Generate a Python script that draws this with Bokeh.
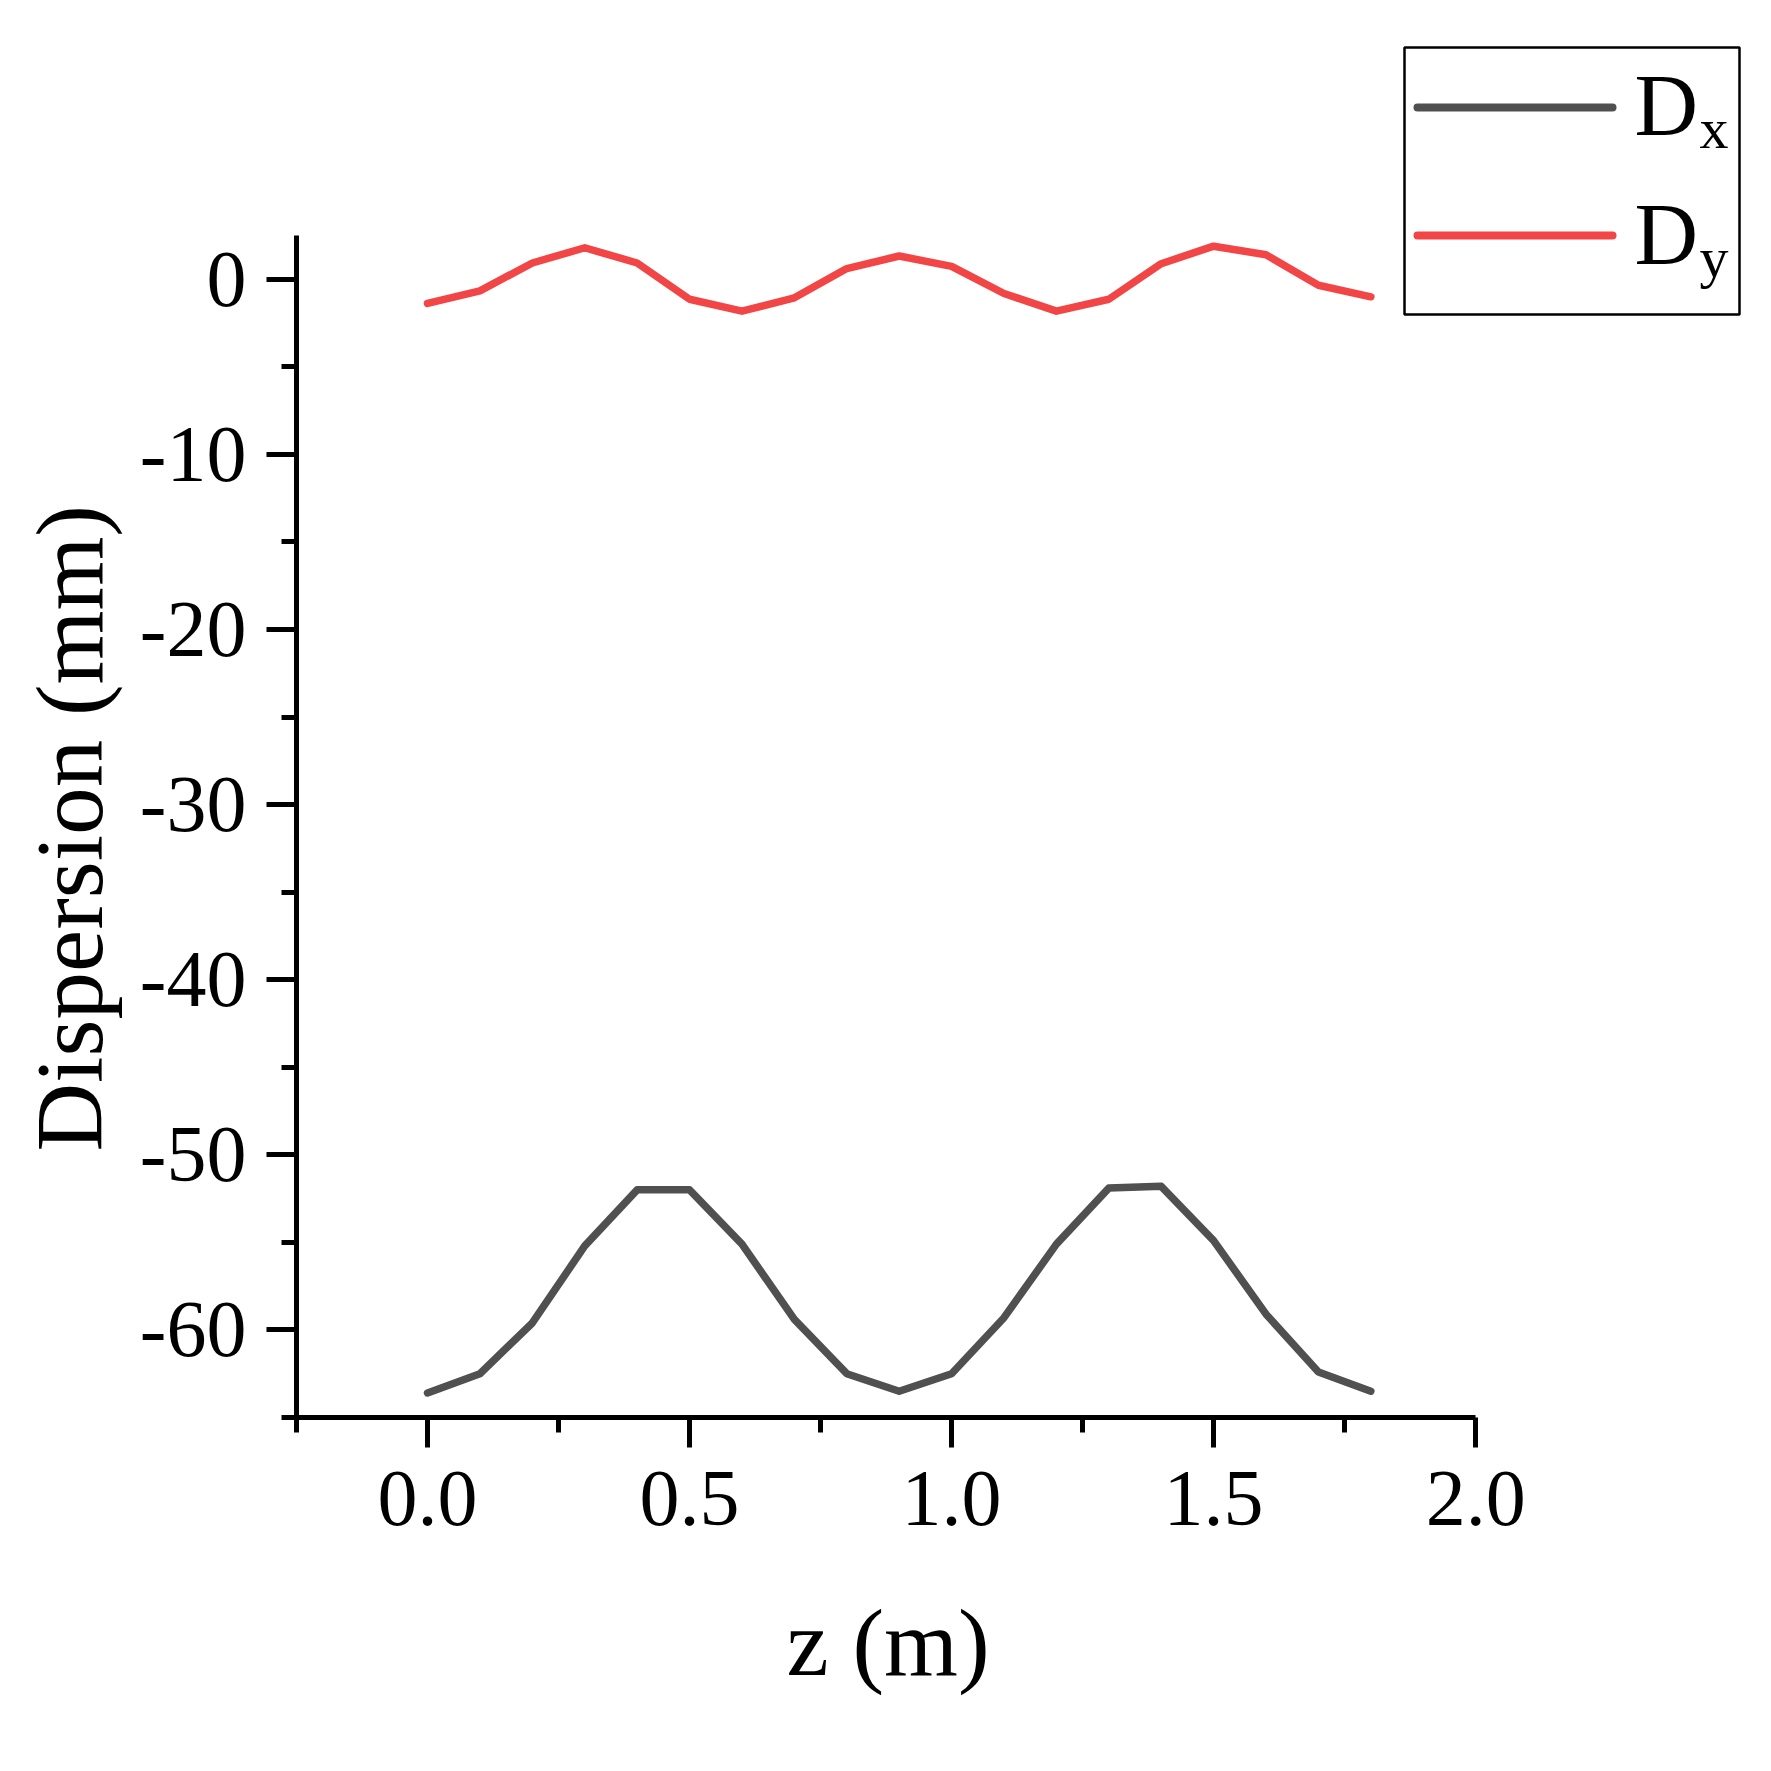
from bokeh.plotting import figure
from bokeh.models import (Range1d, FixedTicker, PrintfTickFormatter, Label, Arrow,
                          BoxAnnotation, Title)
from bokeh.embed import file_html
from bokeh.resources import INLINE

# ---- data ----
Z = [0.0, 0.1, 0.2, 0.3, 0.4, 0.5, 0.6, 0.7, 0.8, 0.9,
     1.0, 1.1, 1.2, 1.3, 1.4, 1.5, 1.6, 1.7, 1.8]
DX = [-63.6, -62.5, -59.6, -55.2, -52.0, -52.0, -55.1, -59.4, -62.5, -63.5,
      -62.5, -59.3, -55.1, -51.9, -51.8, -54.9, -59.1, -62.4, -63.5]
DY = [-1.38, -0.66, 0.93, 1.80, 0.93, -1.14, -1.82, -1.06, 0.61, 1.33,
      0.74, -0.81, -1.82, -1.14, 0.89, 1.89, 1.40, -0.34, -1.00]

X_TICKS = [0.0, 0.5, 1.0, 1.5, 2.0]
X_MINOR = [-0.25, 0.25, 0.75, 1.25, 1.75]
Y_TICKS = [0, -10, -20, -30, -40, -50, -60]
Y_MINOR = [-5, -15, -25, -35, -45, -55, -65]
X_BOUNDS = (-0.25, 2.0)
Y_BOUNDS = (-65, 2.5)

SERIES_MAIN = ["D", "D"]
SERIES_SUB = ["x", "y"]
COLORS = ["#505050", "#F24545"]

X_LABEL = "z (m)"
Y_LABEL = "Dispersion (mm)"

FONT = "Liberation Serif"

# ---- figure: frame extended up/right so the legend fits inside it ----
p = figure(width=1755, height=1755, output_backend="svg", toolbar_location=None,
           x_range=Range1d(-0.25, 2.534), y_range=Range1d(-65, 15.92),
           min_border_left=295, min_border_right=0, min_border_top=0,
           min_border_bottom=338)
p.outline_line_color = None
p.xgrid.visible = False
p.ygrid.visible = False
p.background_fill_color = "white"
p.border_fill_color = "white"

for ys, c in zip([DX, DY], COLORS):
    p.line(Z, ys, line_color=c, line_width=7.5, line_cap="round", line_join="round")

xa = p.xaxis[0]
ya = p.yaxis[0]
xa.ticker = FixedTicker(ticks=X_TICKS, minor_ticks=X_MINOR)
ya.ticker = FixedTicker(ticks=Y_TICKS, minor_ticks=Y_MINOR)
xa.formatter = PrintfTickFormatter(format="%.1f")
ya.formatter = PrintfTickFormatter(format="%d")
xa.bounds = X_BOUNDS
ya.bounds = Y_BOUNDS

for ax in (xa, ya):
    ax.axis_line_width = 5
    ax.axis_line_color = "black"
    ax.major_tick_line_width = 5
    ax.minor_tick_line_width = 5
    ax.major_tick_line_color = "black"
    ax.minor_tick_line_color = "black"
    ax.major_tick_out = 30
    ax.major_tick_in = 0
    ax.minor_tick_out = 15
    ax.minor_tick_in = 0
    ax.major_label_text_font = FONT
    ax.major_label_text_font_size = "80px"
    ax.major_label_text_color = "black"

xa.major_label_standoff = 24
ya.major_label_standoff = 20

# axis titles centred on the axis bounds (frame is larger than the axes)
xt = Title(text=X_LABEL, align="left", offset=490, standoff=120,
           text_font=FONT, text_font_size="95px", text_font_style="normal",
           text_color="black")
yt = Title(text=Y_LABEL, align="left", offset=266, standoff=28,
           text_font=FONT, text_font_size="95px", text_font_style="normal",
           text_color="black")
p.add_layout(xt, "below")
p.add_layout(yt, "left")

# ---- legend (screen units relative to frame, y upward) ----
box = BoxAnnotation(left=1108, right=1443, top=1370, bottom=1103,
                    left_units="screen", right_units="screen",
                    top_units="screen", bottom_units="screen",
                    fill_color="white", fill_alpha=1.0,
                    line_color="black", line_width=2.5, line_alpha=1.0)
p.add_layout(box)

ROW_Y = [1310, 1182]
BASE_Y = [1312, 1183]
for i in range(2):
    p.add_layout(Arrow(x_start=1121, x_end=1316, y_start=ROW_Y[i], y_end=ROW_Y[i],
                       start_units="screen", end_units="screen", start=None, end=None,
                       line_color=COLORS[i], line_width=8, line_cap="round"))
    p.add_layout(Label(x=1338, y=BASE_Y[i], x_units="screen", y_units="screen",
                       text=SERIES_MAIN[i], text_font=FONT, text_font_size="88px",
                       text_baseline="alphabetic", text_color="black"))
    p.add_layout(Label(x=1403, y=BASE_Y[i] - 23, x_units="screen", y_units="screen",
                       text=SERIES_SUB[i], text_font=FONT, text_font_size="58px",
                       text_baseline="alphabetic", text_color="black"))

open("out.html", "w").write(file_html(p, INLINE))
